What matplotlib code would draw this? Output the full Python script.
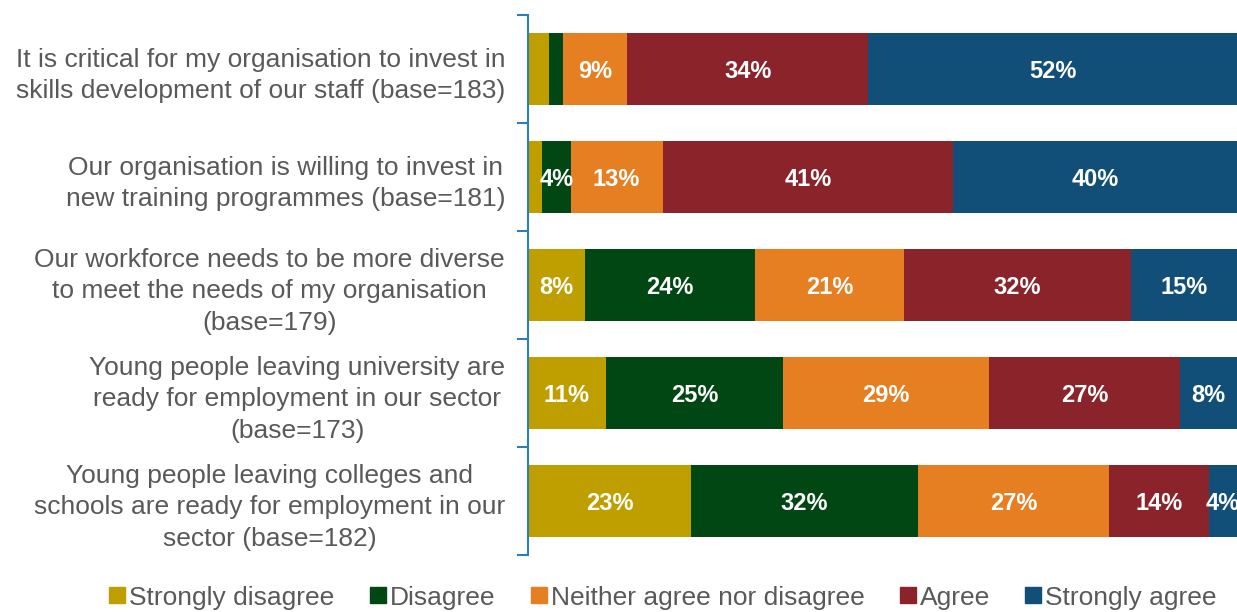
import numpy as np
import matplotlib
matplotlib.use("Agg")
import matplotlib.pyplot as plt
from matplotlib.lines import Line2D

plt.rcParams['font.family'] = ['Liberation Sans', 'DejaVu Sans']

# Survey statements (top to bottom)
statements = [
    "It is critical for my organisation to invest in\nskills development of our staff (base=183)",
    "Our organisation is willing to invest in\nnew training programmes (base=181)",
    "Our workforce needs to be more diverse\nto meet the needs of my organisation\n(base=179)",
    "Young people leaving university are\nready for employment in our sector\n(base=173)",
    "Young people leaving colleges and\nschools are ready for employment in our\nsector (base=182)",
]
responses = ["Strongly disagree", "Disagree", "Neither agree nor disagree",
             "Agree", "Strongly agree"]

strongly_disagree = [3, 2, 8, 11, 23]
disagree = [2, 4, 24, 25, 32]
neither = [9, 13, 21, 29, 27]
agree = [34, 41, 32, 27, 14]
strongly_agree = [52, 40, 15, 8, 4]

colors = ['#BF9F00', '#004714', '#E67E22', '#8A232A', '#124F78']
axis_color = '#2E7DB5'
text_color = '#595959'

series = [strongly_disagree, disagree, neither, agree, strongly_agree]

fig = plt.figure(figsize=(12.37, 6.12), dpi=100)
ax = fig.add_axes([528 / 1237, 1 - 555 / 612, 1 - 528 / 1237, 540 / 612])

y = np.arange(len(statements))
left = np.zeros(len(statements))
for vals, col, name in zip(series, colors, responses):
    vals = np.array(vals, dtype=float)
    ax.barh(y, vals, left=left, height=0.667, color=col, label=name)
    for yi, (l, v) in enumerate(zip(left, vals)):
        if v >= 4:
            ax.text(l + v / 2, yi + 0.02, f"{v:.0f}%", ha='center', va='center',
                    color='white', fontsize=17, fontweight='bold')
    left += vals

ax.set_xlim(0, 100)
ax.set_ylim(len(statements) - 0.5, -0.5)

ax.set_yticks(y)
ax.set_yticklabels(statements, fontsize=19, color=text_color,
                   multialignment='center', linespacing=1.4)
ax.tick_params(axis='y', which='major', length=0, pad=16.5)
ax.set_yticks(np.arange(-0.5, len(statements)), minor=True)
ax.tick_params(axis='y', which='minor', length=8, width=1.5,
               color=axis_color, direction='out')
ax.set_xticks([])

for side in ['top', 'right', 'bottom']:
    ax.spines[side].set_visible(False)
ax.spines['left'].set_color(axis_color)
ax.spines['left'].set_linewidth(1.5)

handles = [Line2D([0], [0], marker='s', linestyle='', markersize=11,
                  markerfacecolor=c, markeredgecolor=c) for c in colors]
leg = fig.legend(handles, responses, loc='lower center', ncol=5,
                 bbox_to_anchor=(663 / 1237, -0.035), frameon=False,
                 fontsize=19, handlelength=0.6, handletextpad=0.15,
                 columnspacing=1.35, labelcolor=text_color)

fig.savefig("out.png", dpi=100)
